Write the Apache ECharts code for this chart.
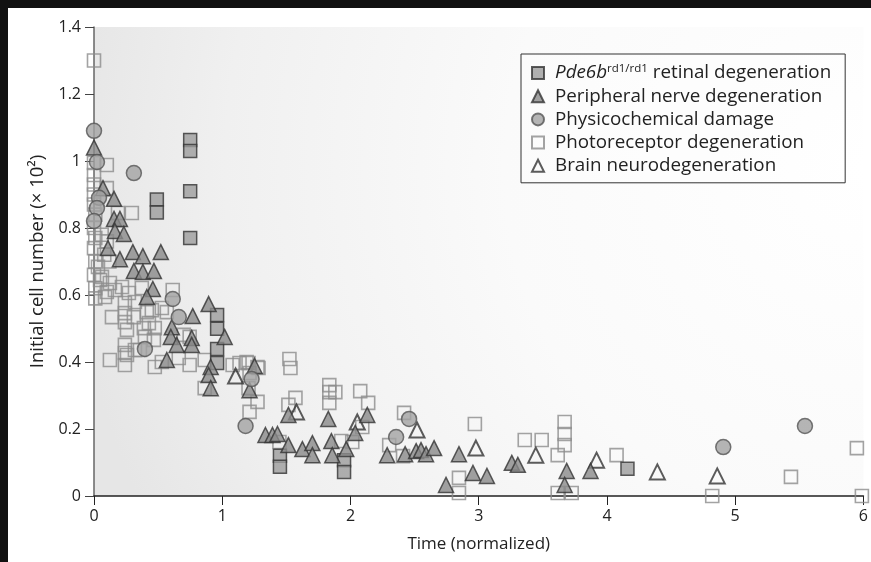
<!DOCTYPE html>
<html>
<head>
<meta charset="utf-8">
<script src="https://cdn.jsdelivr.net/npm/echarts@6/dist/echarts.min.js"></script>
<style>
  html, body { margin: 0; padding: 0; background: #111; }
  #chart { position: absolute; left: 8px; top: 8px; width: 863px; height: 554px; background: #fff; }
</style>
</head>
<body>
<div id="chart"></div>
<script>
// series names, in legend order
const seriesNames = [
  "Pde6b retinal degeneration",
  "Peripheral nerve degeneration",
  "Physicochemical damage",
  "Photoreceptor degeneration",
  "Brain neurodegeneration",
];

const xTicks = [0, 1, 2, 3, 4, 5, 6];
const yTicks = [0, 0.2, 0.4, 0.6, 0.8, 1, 1.2, 1.4];

// [time (normalized), initial cell number x10^2]
const pde6bData = [
  [0.49, 0.885], [0.49, 0.846], [0.75, 1.063], [0.75, 1.03], [0.75, 0.91],
  [0.75, 0.77], [0.96, 0.54], [0.96, 0.499], [0.96, 0.439], [0.96, 0.397],
  [1.45, 0.12], [1.45, 0.087], [1.95, 0.107], [1.95, 0.072], [4.16, 0.081],
];

const peripheralData = [
  [0, 1.04], [0.07, 0.919], [0.156, 0.887], [0.156, 0.827], [0.202, 0.827],
  [0.163, 0.791], [0.233, 0.782], [0.109, 0.74], [0.202, 0.707], [0.303, 0.728],
  [0.381, 0.716], [0.521, 0.728], [0.311, 0.672], [0.381, 0.669], [0.467, 0.672],
  [0.459, 0.618], [0.412, 0.594], [0.77, 0.537], [0.607, 0.504], [0.599, 0.475],
  [0.762, 0.472], [0.645, 0.451], [0.762, 0.451], [0.568, 0.406], [0.894, 0.573],
  [1.019, 0.475], [0.91, 0.385], [0.894, 0.361], [0.91, 0.322], [1.252, 0.388],
  [1.213, 0.316],
  [1.337, 0.182], [1.392, 0.182], [1.431, 0.185], [1.516, 0.152], [1.625, 0.14],
  [1.703, 0.158], [1.703, 0.122], [1.516, 0.242], [1.827, 0.23], [1.851, 0.164],
  [1.858, 0.122], [1.967, 0.14], [2.037, 0.188], [2.131, 0.242], [2.286, 0.122],
  [2.426, 0.125], [2.512, 0.134], [2.55, 0.137], [2.589, 0.125], [2.652, 0.143],
  [2.846, 0.125], [2.955, 0.069], [3.064, 0.06], [2.745, 0.033], [3.258, 0.099],
  [3.305, 0.093], [3.686, 0.075], [3.67, 0.033], [3.872, 0.075],
];

const physicoData = [
  [0, 1.09], [0.023, 0.997], [0.039, 0.89], [0.023, 0.86], [0, 0.821],
  [0.311, 0.964], [0.614, 0.588], [0.661, 0.534], [0.397, 0.439], [1.229, 0.349],
  [1.182, 0.209], [2.356, 0.176], [2.457, 0.23], [4.907, 0.146], [5.544, 0.209],
];

const photoreceptorData = [
  [0, 1.30], [0, 0.994], [0, 0.958], [0, 0.93], [0, 0.90], [0, 0.87],
  [0.01, 0.84], [0, 0.80], [0.01, 0.77], [0, 0.74], [0.01, 0.70], [0.031, 0.684],
  [0, 0.66], [0.047, 0.645], [0.01, 0.62], [0.01, 0.59],
  [0.10, 0.988], [0.10, 0.919], [0.187, 0.845], [0.295, 0.845], [0.06, 0.78],
  [0.10, 0.76], [0.08, 0.72], [0.12, 0.70], [0.062, 0.654], [0.124, 0.636],
  [0.10, 0.609], [0.163, 0.615], [0.218, 0.624], [0.272, 0.606], [0.373, 0.621],
  [0.319, 0.579], [0.241, 0.576], [0.14, 0.534], [0.241, 0.546], [0.241, 0.519],
  [0.311, 0.534], [0.412, 0.549], [0.451, 0.555], [0.568, 0.549], [0.428, 0.516],
  [0.257, 0.496], [0.389, 0.501], [0.474, 0.501], [0.397, 0.475], [0.467, 0.466],
  [0.70, 0.481], [0.746, 0.475], [0.241, 0.451], [0.241, 0.427], [0.241, 0.391],
  [0.124, 0.406], [0.319, 0.436], [0.474, 0.385], [0.529, 0.40], [0.661, 0.412],
  [0.746, 0.391], [0.863, 0.406], [0.863, 0.322], [1.081, 0.391], [1.205, 0.397],
  [1.283, 0.382], [1.213, 0.367], [1.205, 0.322], [0.529, 0.561], [0.614, 0.615],
  [0.086, 0.594], [0.257, 0.421], [0.358, 0.436],
  [1.19, 0.40], [1.275, 0.385], [1.135, 0.397], [1.275, 0.281], [1.213, 0.251],
  [1.524, 0.409], [1.532, 0.382], [1.571, 0.293], [1.516, 0.272], [1.446, 0.161],
  [1.835, 0.331], [1.835, 0.31], [1.882, 0.31], [1.835, 0.278], [1.928, 0.164],
  [2.014, 0.161], [2.076, 0.313], [2.138, 0.278], [2.092, 0.206], [2.302, 0.152],
  [2.418, 0.248], [2.41, 0.119], [2.97, 0.215], [2.846, 0.054], [2.846, 0.009],
  [3.359, 0.167], [3.491, 0.167], [3.67, 0.221], [3.67, 0.185], [3.67, 0.152],
  [3.616, 0.122], [3.616, 0.009], [3.725, 0.009], [4.075, 0.122], [4.821, 0],
  [5.435, 0.057], [5.949, 0.143], [5.988, 0],
];

const brainData = [
  [1.104, 0.358], [1.579, 0.251], [2.053, 0.221], [2.519, 0.197], [2.978, 0.143],
  [3.445, 0.122], [3.919, 0.107], [4.393, 0.072], [4.86, 0.06],
];

const font = "Open Sans";
const chart = echarts.init(document.getElementById("chart"), null, { renderer: "canvas" });

const option = {
  animation: false,
  textStyle: { fontFamily: font },
  grid: {
    left: 86, top: 19, right: 5, bottom: 66,
    show: true,
    borderWidth: 0,
    backgroundColor: {
      type: "radial", x: 1.0, y: 0.3, r: 1.7,
      colorStops: [
        { offset: 0, color: "#ffffff" },
        { offset: 0.45, color: "#fafafa" },
        { offset: 0.8, color: "#f0f0f0" },
        { offset: 1, color: "#e6e6e6" },
      ],
    },
  },
  xAxis: {
    type: "value",
    min: xTicks[0],
    max: xTicks[xTicks.length - 1],
    interval: 1,
    name: "Time (normalized)",
    nameLocation: "middle",
    nameGap: 40,
    nameTextStyle: { fontSize: 17, color: "#222", fontFamily: font },
    axisLine: { lineStyle: { color: "#222", width: 1.5 } },
    axisTick: { show: true, length: 9, lineStyle: { color: "#222" } },
    axisLabel: { fontSize: 16, color: "#222", margin: 12, fontFamily: font },
    splitLine: { show: false },
  },
  yAxis: {
    type: "value",
    min: yTicks[0],
    max: yTicks[yTicks.length - 1],
    interval: 0.2,
    name: "Initial cell number (× 10²)",
    nameLocation: "middle",
    nameGap: 47,
    nameTextStyle: { fontSize: 18.5, color: "#222", fontFamily: font },
    axisLine: { show: true, lineStyle: { color: "#666", width: 1.5 } },
    axisTick: { show: true, length: 9, lineStyle: { color: "#444" } },
    axisLabel: {
      fontSize: 16, color: "#222", margin: 13, fontFamily: font,
      formatter: (v) => String(+v.toFixed(1)),
    },
    splitLine: { show: false },
  },
  legend: {
    orient: "vertical",
    left: 513,
    top: 46,
    data: seriesNames,
    itemWidth: 12,
    itemHeight: 12,
    itemGap: 3.2,
    padding: [9, 14, 7, 10],
    borderColor: "#333",
    borderWidth: 1,
    backgroundColor: "rgba(255,255,255,0.3)",
    textStyle: {
      fontSize: 18.8,
      lineHeight: 20,
      color: "#222",
      fontFamily: font,
      padding: [0, 0, 0, 6],
      rich: {
        i: { fontSize: 18.8, lineHeight: 20, fontStyle: "italic", color: "#222", fontFamily: font },
        s: { fontSize: 11.5, color: "#222", fontFamily: font, padding: [0, 0, 8, 0] },
        t: { fontSize: 18.8, lineHeight: 20, color: "#222", fontFamily: font },
      },
    },
    formatter: (name) =>
      name === seriesNames[0] ? "{i|Pde6b}{s|rd1/rd1}{t| retinal degeneration}" : name,
  },
  series: [
    {
      name: seriesNames[3], type: "scatter", data: photoreceptorData,
      symbol: "rect", symbolSize: 13, z: 2,
      itemStyle: { color: "rgba(255,255,255,0)", borderColor: "#8c8c8c", borderWidth: 1.6 },
    },
    {
      name: seriesNames[4], type: "scatter", data: brainData,
      symbol: "triangle", symbolSize: 15, z: 3,
      itemStyle: { color: "rgba(255,255,255,0)", borderColor: "#333", borderWidth: 2 },
    },
    {
      name: seriesNames[0], type: "scatter", data: pde6bData,
      symbol: "rect", symbolSize: 13, z: 4,
      itemStyle: { color: "#9c9c9c", borderColor: "#333", borderWidth: 1.5 },
    },
    {
      name: seriesNames[1], type: "scatter", data: peripheralData,
      symbol: "triangle", symbolSize: 15, z: 5,
      itemStyle: { color: "#8a8a8a", borderColor: "#333", borderWidth: 1.5 },
    },
    {
      name: seriesNames[2], type: "scatter", data: physicoData,
      symbol: "circle", symbolSize: 15, z: 6,
      itemStyle: { color: "#a2a2a2", borderColor: "#555", borderWidth: 1.5 },
    },
  ],
};

chart.setOption(option);
</script>
</body>
</html>
